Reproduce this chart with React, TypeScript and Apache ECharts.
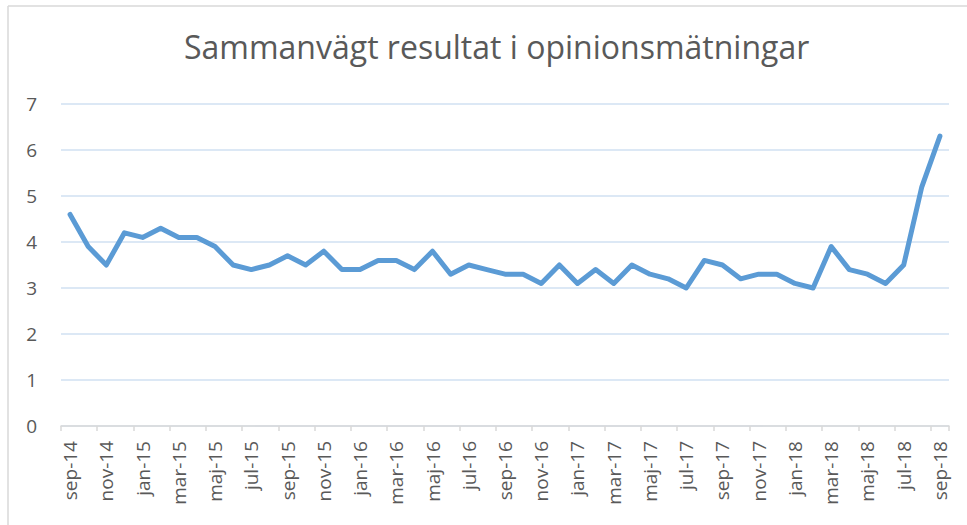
import React, { useEffect, useRef } from "react";
import * as echarts from "echarts";

const TITLE = "Sammanvägt resultat i opinionsmätningar";

const categories: string[] = [
  "sep-14", "okt-14", "nov-14", "dec-14",
  "jan-15", "feb-15", "mar-15", "apr-15", "maj-15", "jun-15", "jul-15", "aug-15", "sep-15", "okt-15", "nov-15", "dec-15",
  "jan-16", "feb-16", "mar-16", "apr-16", "maj-16", "jun-16", "jul-16", "aug-16", "sep-16", "okt-16", "nov-16", "dec-16",
  "jan-17", "feb-17", "mar-17", "apr-17", "maj-17", "jun-17", "jul-17", "aug-17", "sep-17", "okt-17", "nov-17", "dec-17",
  "jan-18", "feb-18", "mar-18", "apr-18", "maj-18", "jun-18", "jul-18", "aug-18", "sep-18",
];

const values: number[] = [
  4.6, 3.9, 3.5, 4.2,
  4.1, 4.3, 4.1, 4.1, 3.9, 3.5, 3.4, 3.5, 3.7, 3.5, 3.8, 3.4,
  3.4, 3.6, 3.6, 3.4, 3.8, 3.3, 3.5, 3.4, 3.3, 3.3, 3.1, 3.5,
  3.1, 3.4, 3.1, 3.5, 3.3, 3.2, 3.0, 3.6, 3.5, 3.2, 3.3, 3.3,
  3.1, 3.0, 3.9, 3.4, 3.3, 3.1, 3.5, 5.2, 6.3,
];

const yTicks: number[] = [0, 1, 2, 3, 4, 5, 6, 7];

export default function App() {
  const ref = useRef<HTMLDivElement>(null);
  useEffect(() => {
    if (!ref.current) return;
    const chart = echarts.init(ref.current, undefined, { renderer: "svg" });
    const font = "'Open Sans', 'DejaVu Sans', sans-serif";
    chart.setOption({
      animation: false,
      backgroundColor: "#ffffff",
      title: {
        text: TITLE,
        left: 179,
        top: 25,
        textStyle: { fontFamily: font, fontSize: 32, fontWeight: "normal", color: "#595959" },
      },
      graphic: [
        { type: "line", shape: { x1: 8, y1: 6, x2: 967, y2: 6 }, style: { stroke: "#d9d9d9", lineWidth: 1.5 } },
        { type: "line", shape: { x1: 8, y1: 6, x2: 8, y2: 525 }, style: { stroke: "#d9d9d9", lineWidth: 1.5 } },
      ],
      grid: { left: 61, right: 18, top: 104, bottom: 99, containLabel: false },
      xAxis: {
        type: "category",
        data: categories,
        boundaryGap: true,
        axisLine: { lineStyle: { color: "#d9d9d9", width: 1.5 } },
        axisTick: { show: true, interval: 1, length: 5, lineStyle: { color: "#d9d9d9", width: 1.5 } },
        axisLabel: {
          interval: 1,
          rotate: 90,
          margin: 15,
          fontFamily: font,
          fontSize: 19,
          color: "#595959",
        },
        splitLine: { show: false },
      },
      yAxis: {
        type: "value",
        min: yTicks[0],
        max: yTicks[yTicks.length - 1],
        interval: 1,
        axisLine: { show: false },
        axisTick: { show: false },
        axisLabel: { fontFamily: font, fontSize: 19, color: "#595959", margin: 24 },
        splitLine: { lineStyle: { color: "#d0e1f2", width: 1.5 } },
      },
      series: [
        {
          type: "line",
          data: values,
          symbol: "none",
          lineStyle: { color: "#5b9bd5", width: 5, cap: "round", join: "round" },
        },
      ],
    });
    return () => chart.dispose();
  }, []);
  return <div ref={ref} style={{ width: 967, height: 525, position: "absolute", left: 0, top: 0 }} />;
}
